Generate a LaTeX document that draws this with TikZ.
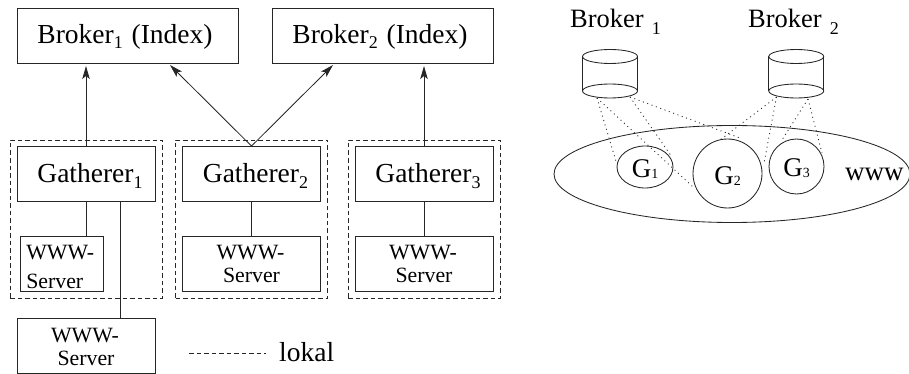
\documentclass[tikz,border=0pt]{standalone}
\usepackage{fontspec}
\setmainfont{Liberation Serif}
\usetikzlibrary{arrows.meta,shapes.geometric}
\newcommand{\fsz}[1]{\fontsize{#1}{#1}\selectfont}
\newsavebox{\dnbox}
\newcommand{\dn}[2]{\sbox{\dnbox}{#2}\raisebox{-#1}[\ht\dnbox][\dp\dnbox]{\usebox{\dnbox}}}
\newcommand{\sbs}[2][5]{\raisebox{-#1pt}{\fsz{18}#2}}
\newcommand{\wwws}[1][3.5pt]{\dn{#1}{\fsz{21.8}\begin{tabular}{@{}c@{}}\hspace*{-2pt}WWW-\\[1pt]Server\end{tabular}}}
\tikzset{
  x=1pt,y=-1pt,
  ln/.style={line width=0.85pt,draw=black!85},
  box/.style={ln,rectangle,inner sep=0pt,minimum width=#1},
  bigbox/.style={box=221pt,minimum height=55pt,font=\fsz{27.5}},
  gbox/.style={box=138pt,minimum height=55pt,font=\fsz{27.5}},
  sbox/.style={box=138pt,minimum height=55pt},
  local/.style={rectangle,draw=black!85,line width=0.8pt,dash pattern=on 4.5pt off 3pt,inner sep=0pt,minimum width=152pt,minimum height=158pt},
  arr/.style={ln,-{Stealth[length=13pt,width=7.5pt,inset=3pt]}},
  dots/.style={draw=black!85,line width=0.85pt,dash pattern=on 1pt off 3.6pt},
  circ/.style={ln,ellipse,inner sep=0pt,font=\fsz{27}},
  txt/.style={inner sep=0pt,anchor=base west},
}
\begin{document}
\begin{tikzpicture}
\useasboundingbox (0,0) rectangle (909,374);
% left part
\node[bigbox] (b1) at (127.5,36) {\hspace*{-5pt}\dn{1pt}{Broker\sbs{1}\hspace{2pt} (Index)}};
\node[bigbox] (b2) at (382.5,36) {\hspace*{-5pt}\dn{1pt}{Broker\sbs{2}\hspace{2pt} (Index)}};
\node[local] (l1) at (86,219) {};
\node[local] (l2) at (251.5,219) {};
\node[local] (l3) at (424,219) {};
\node[gbox] (g1) at (86,174) {\hspace*{8pt}\dn{2pt}{Gatherer\sbs[6]{1}}};
\node[gbox] (g2) at (251.5,174) {\hspace*{8pt}\dn{2pt}{Gatherer\sbs[6]{2}}};
\node[gbox] (g3) at (424,174) {\hspace*{8pt}\dn{2pt}{Gatherer\sbs[6]{3}}};
\node[box=83pt,minimum height=55pt] (w1) at (61.5,263.5) {\hspace*{-2.5pt}\dn{6pt}{\fsz{21.8}\begin{tabular}{@{}l@{}}WWW-\\[7pt]Server\end{tabular}}};
\node[sbox] (w2) at (251.5,263.5) {\wwws};
\node[sbox] (w3) at (424,263.5) {\wwws};
\node[sbox] (w4) at (86,345.5) {\wwws[4pt]};
\coordinate (a1) at (86,66);
\coordinate (a2) at (170,65);
\coordinate (a3) at (333,65);
\coordinate (a4) at (424,66);
\draw[arr] (g1.north) -- (a1);
\draw[arr] (g2.north) -- (a2);
\draw[arr] (g2.north) -- (a3);
\draw[arr] (g3.north) -- (a4);
\draw[ln] (g1.south) -- (g1.south |- w1.north);
\draw[ln] (g2.south) -- (w2.north);
\draw[ln] (g3.south) -- (w3.north);
\coordinate (gx) at (120,201.5);
\draw[ln] (gx) -- (gx |- w4.north);
\coordinate (lg1) at (189,353);
\coordinate (lg2) at (266,353);
\draw[draw=black!85,line width=0.8pt,dash pattern=on 4.5pt off 3pt] (lg1) -- (lg2);
\node[txt,font=\fsz{27.5}] (lok) at (279,361) {lokal};
% right part
\node[txt,font=\fsz{26.5}] (t1) at (570,28) {Broker\hspace{8pt}\sbs[7]{1}};
\node[txt,font=\fsz{26.5}] (t2) at (748,28) {Broker\hspace{8pt}\sbs[7]{2}};
\node[ln,ellipse,inner sep=0pt,minimum width=356pt,minimum height=97pt] (www) at (732,174) {};
\node[txt,font=\fsz{27}] (wl) at (845,180) {www};
\node[circ,minimum width=56pt,minimum height=42pt] (c1) at (645,167) {\dn{2pt}{G\raisebox{-1pt}{\fsz{14}1}}};
\node[circ,minimum width=69pt,minimum height=69pt] (c2) at (727.5,173.5) {\dn{2.5pt}{G\raisebox{-1pt}{\fsz{14}2}}};
\node[circ,minimum width=55pt,minimum height=55pt] (c3) at (796.5,166.5) {\dn{2pt}{G\raisebox{-1pt}{\fsz{14}3}}};
\foreach \n/\cx in {1/610,2/796.25}{
  \draw[ln] (\cx-27.5,56.5) arc[start angle=180,end angle=-180,x radius=27.5,y radius=7];
  \draw[ln] (\cx-27.5,91) arc[start angle=180,end angle=-180,x radius=27.5,y radius=7];
  \draw[ln] (\cx-27.5,56.5) -- (\cx-27.5,91);
  \draw[ln] (\cx+27.5,56.5) -- (\cx+27.5,91);
}
\coordinate (d1) at (597,98);
\coordinate (d2) at (630,97);
\coordinate (d3) at (776.5,97);
\coordinate (d4) at (808,99);
\coordinate (e1) at (616.5,163);
\coordinate (e2) at (693,187);
\coordinate (e3) at (672,157);
\coordinate (e4) at (740,138);
\coordinate (e5) at (720,140);
\coordinate (e6) at (764,163);
\coordinate (e7) at (782,140);
\coordinate (e8) at (822,153);
\draw[dots] (d1) -- (e1);
\draw[dots] (d1) -- (e2);
\draw[dots] (d2) -- (e3);
\draw[dots] (d2) -- (e4);
\draw[dots] (d3) -- (e5);
\draw[dots] (d3) -- (e6);
\draw[dots] (d4) -- (e7);
\draw[dots] (d4) -- (e8);
\end{tikzpicture}
\end{document}
